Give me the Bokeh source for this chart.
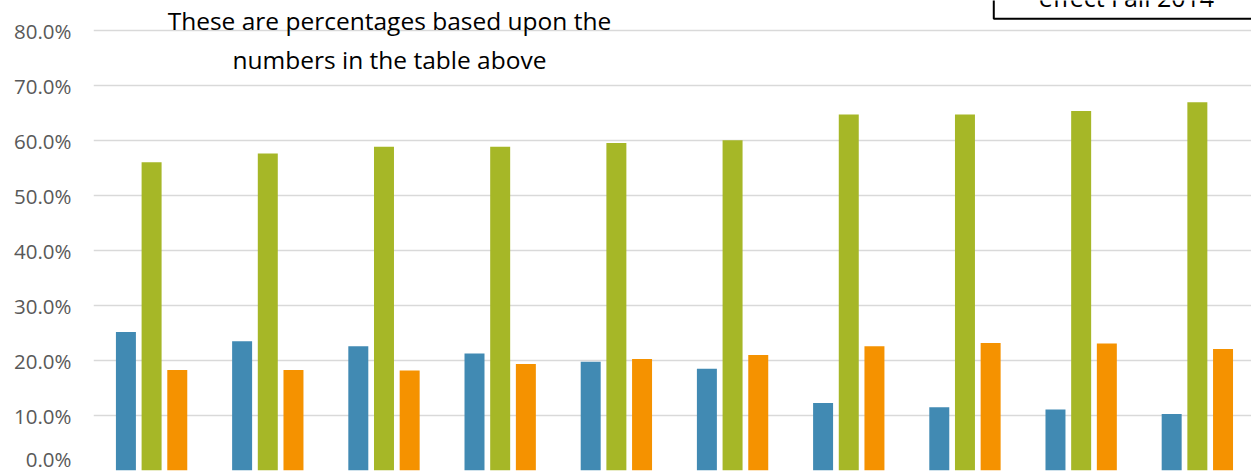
import numpy as np
from bokeh.plotting import figure
from bokeh.models import Range1d, FixedTicker, PrintfTickFormatter, Label, BoxAnnotation
from bokeh.embed import file_html
from bokeh.resources import INLINE

# ---- data (percent values) ----
categories = [str(i) for i in range(1, 11)]
series_blue = [25.2, 23.5, 22.6, 21.3, 19.8, 18.5, 12.3, 11.5, 11.1, 10.3]
series_green = [56.1, 57.7, 58.9, 58.9, 59.6, 60.1, 64.8, 64.8, 65.4, 67.0]
series_orange = [18.3, 18.3, 18.2, 19.4, 20.3, 21.0, 22.6, 23.2, 23.1, 22.1]
y_ticks = [0, 10, 20, 30, 40, 50, 60, 70, 80]

BLUE = "#418AB3"
GREEN = "#A6B727"
ORANGE = "#F59200"

n = len(categories)
pos = np.arange(n)
bar_w = 0.172
step = 0.221

p = figure(width=1251, height=472, output_backend="svg", toolbar_location=None,
           x_range=Range1d(-0.5, 9.466), y_range=Range1d(0, 85.53),
           min_border_left=93, min_border_right=0, min_border_top=0, min_border_bottom=2)
p.outline_line_color = None
p.background_fill_color = "white"
p.border_fill_color = "white"

p.vbar(x=pos - step, top=series_blue, width=bar_w, fill_color=BLUE, line_color=None)
p.vbar(x=pos, top=series_green, width=bar_w, fill_color=GREEN, line_color=None)
p.vbar(x=pos + step, top=series_orange, width=bar_w, fill_color=ORANGE, line_color=None)

p.xaxis.visible = False
p.xgrid.visible = False

yax = p.yaxis[0]
yax.ticker = FixedTicker(ticks=y_ticks)
yax.formatter = PrintfTickFormatter(format="%.1f%%")
yax.axis_line_color = None
yax.major_tick_line_color = None
yax.minor_tick_line_color = None
yax.major_tick_in = 0
yax.major_tick_out = 0
yax.major_label_standoff = 22
yax.major_label_text_font = "Open Sans"
yax.major_label_text_font_size = "20.5px"
yax.major_label_text_color = "#595959"

p.ygrid.ticker = FixedTicker(ticks=y_ticks)
p.ygrid.grid_line_color = "#D9D9D9"
p.ygrid.grid_line_width = 1.5
p.ygrid.level = "underlay"

# annotation text in the chart
p.add_layout(Label(x=2.047, y=81.89, text="These are percentages based upon the",
                   text_align="center", text_baseline="alphabetic",
                   text_font="Open Sans", text_font_size="24.5px", text_color="#000000"))
p.add_layout(Label(x=2.047, y=74.8, text="numbers in the table above",
                   text_align="center", text_baseline="alphabetic",
                   text_font="Open Sans", text_font_size="24.5px", text_color="#000000"))

# partially visible box at the top right
p.add_layout(BoxAnnotation(left=7.248, right=10.5, bottom=82.2, top=100,
                           fill_color="white", fill_alpha=1.0,
                           line_color="black", line_alpha=1.0, line_width=2))
p.add_layout(Label(x=8.39, y=86.13, text="effect Fall 2014",
                   text_align="center", text_baseline="alphabetic",
                   text_font="Open Sans", text_font_size="25px", text_color="#000000"))

open("out.html", "w").write(file_html(p, INLINE))
